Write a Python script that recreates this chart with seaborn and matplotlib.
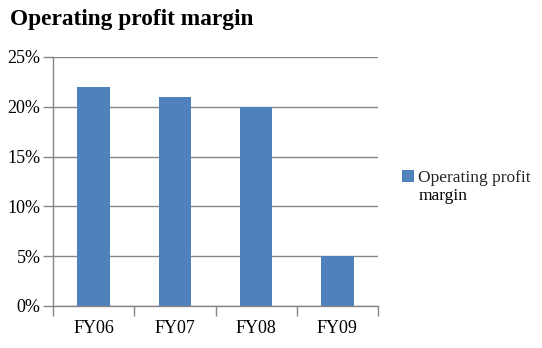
import matplotlib
matplotlib.use("Agg")
import matplotlib.pyplot as plt
import seaborn as sns
import pandas as pd
from matplotlib.patches import Patch
from matplotlib.ticker import FuncFormatter, MultipleLocator, FixedLocator

categories = ["FY06", "FY07", "FY08", "FY09"]
values = [0.22, 0.21, 0.20, 0.05]
legend_lines = ["Operating profit", "margin"]
title = "Operating profit margin"

sns.set_theme(style="white")
plt.rcParams['font.family'] = ['Liberation Serif', 'DejaVu Serif']

bar_color = "#4F81BD"
grid_color = "#868686"

df = pd.DataFrame({"cat": categories, "val": values})

fig = plt.figure(figsize=(5.42, 3.48), dpi=100)
ax = fig.add_axes([53/542, 1-306/348, (378-53)/542, (306-57)/348])

sns.barplot(data=df, x="cat", y="val", color=bar_color, width=0.4,
            saturation=1, linewidth=0, ax=ax)

ax.set_ylim(0, 0.25)
ax.set_xlim(-0.5, len(categories) - 0.5)
ax.yaxis.set_major_locator(MultipleLocator(0.05))
ax.yaxis.set_major_formatter(FuncFormatter(lambda v, p: f"{round(v*100)}%"))
ax.yaxis.grid(True, color=grid_color, linewidth=1)
ax.set_axisbelow(True)
ax.set_xlabel("")
ax.set_ylabel("")

for s in ["top", "right"]:
    ax.spines[s].set_visible(False)
for s in ["left", "bottom"]:
    ax.spines[s].set_color(grid_color)
    ax.spines[s].set_linewidth(1)

ax.tick_params(axis="y", which="major", length=7, width=1, color=grid_color,
               labelsize=13, pad=2, left=True)
ax.tick_params(axis="x", which="major", length=0, labelsize=13, pad=10)
ax.xaxis.set_minor_locator(FixedLocator([i - 0.5 for i in range(len(categories) + 1)]))
ax.tick_params(axis="x", which="minor", length=7, width=1, color=grid_color, bottom=True)
for lbl in ax.get_xticklabels() + ax.get_yticklabels():
    lbl.set_color("black")

fig.text(10/542, 1-19/348, title, fontsize=16.8, fontweight="bold",
         ha="left", va="center", color="black")

handle = Patch(facecolor=bar_color, edgecolor="none")
fig.legend([handle], [legend_lines[0]], loc="upper left",
           bbox_to_anchor=(402/542, 1-170/348), frameon=False,
           fontsize=12.5, handlelength=0.72, handleheight=0.72,
           handletextpad=0.22, borderaxespad=0, borderpad=0)
fig.text(419/542, 1-200/348, legend_lines[1], fontsize=12.5,
         ha="left", va="baseline", color="black")

fig.savefig("out.png", dpi=100)
